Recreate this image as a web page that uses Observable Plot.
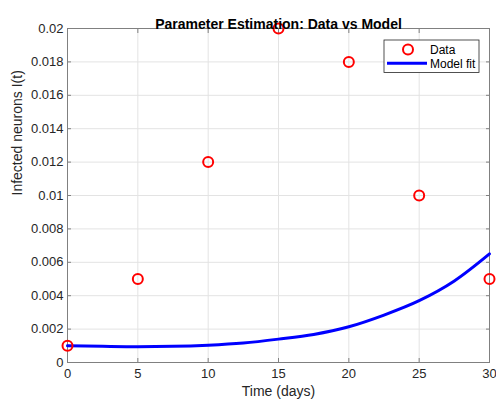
<!DOCTYPE html>
<html>
<head>
<meta charset="utf-8">
<script src="https://cdn.jsdelivr.net/npm/d3@7"></script>
<script src="https://cdn.jsdelivr.net/npm/@observablehq/plot@0.6"></script>
<style>
  html, body { margin: 0; padding: 0; background: #fff; }
  #chart { width: 496px; height: 404px; }
  svg text { font-family: Arial, "Liberation Sans", Helvetica, sans-serif; }
</style>
</head>
<body>
<div id="chart"></div>
<script>
// Observed data
const dataTime = [0, 5, 10, 15, 20, 25, 30];
const dataInfected = [0.001, 0.005, 0.012, 0.02, 0.018, 0.01, 0.005];

// Model fit
const modelTime = [0, 2.5, 5, 7.5, 10, 12.5, 15, 17.5, 20, 22.5, 25, 27.5, 30];
const modelInfected = [0.001, 0.00097, 0.00095, 0.00097, 0.00104, 0.00117, 0.0014, 0.00168, 0.00214, 0.00284, 0.0037, 0.00488, 0.0065];

// Ticks
const xTicks = [0, 5, 10, 15, 20, 25, 30];
const yTicks = [0, 0.002, 0.004, 0.006, 0.008, 0.01, 0.012, 0.014, 0.016, 0.018, 0.02];
const yTickLabels = ["0", "0.002", "0.004", "0.006", "0.008", "0.01", "0.012", "0.014", "0.016", "0.018", "0.02"];

const titleText = "Parameter Estimation: Data vs Model";
const legendLabels = ["Data", "Model fit"];

const dataPts = dataTime.map((t, i) => ({t, v: dataInfected[i]}));
const modelPts = modelTime.map((t, i) => ({t, v: modelInfected[i]}));

const axisColor = "#808080";
const textColor = "#262626";

const chart = Plot.plot({
  width: 496,
  height: 404,
  marginLeft: 67,
  marginRight: 7,
  marginTop: 28,
  marginBottom: 42,
  style: {fontFamily: "Arial, 'Liberation Sans', sans-serif", fontSize: "13px", color: textColor, background: "#fff"},
  x: {domain: [0, 30]},
  y: {domain: [0, 0.02]},
  marks: [
    Plot.gridX(xTicks, {stroke: "#e3e3e3", strokeOpacity: 1}),
    Plot.gridY(yTicks, {stroke: "#e3e3e3", strokeOpacity: 1}),
    Plot.frame({stroke: axisColor}),
    Plot.axisX(xTicks, {anchor: "bottom", tickSize: -4, stroke: axisColor, tickPadding: 10, fill: textColor, fontSize: 13, label: null}),
    Plot.axisX(xTicks, {anchor: "top", tickSize: -4, stroke: axisColor, tickFormat: () => "", label: null}),
    Plot.axisY(yTicks, {anchor: "left", tickSize: -4, stroke: axisColor, tickPadding: 8, fill: textColor, fontSize: 13, label: null,
      tickFormat: d => yTickLabels[yTicks.indexOf(d)]}),
    Plot.axisY(yTicks, {anchor: "right", tickSize: -4, stroke: axisColor, tickFormat: () => "", label: null}),
    Plot.line(modelPts, {x: "t", y: "v", stroke: "#0000ff", strokeWidth: 3, curve: "monotone-x"}),
    Plot.dot(dataPts, {x: "t", y: "v", r: 5, stroke: "#ff0000", strokeWidth: 2, fill: "none"}),
    Plot.text([titleText], {frameAnchor: "top", dy: -9, fontWeight: "bold", fontSize: 14, fill: "#000"}),
    Plot.text(["Time (days)"], {frameAnchor: "bottom", dy: 33, fontSize: 14, fill: textColor}),
    Plot.text(["Infected neurons I(t)"], {frameAnchor: "left", dx: -50, rotate: -90, fontSize: 14, fill: textColor})
  ]
});

// Legend (MATLAB-style box in the upper right)
const svg = d3.select(chart);
const lg = svg.append("g").attr("transform", "translate(384,40)").attr("text-anchor", "start");
lg.append("rect").attr("width", 95).attr("height", 32.5).attr("fill", "#fff").attr("stroke", "#262626").attr("stroke-width", 0.8);
lg.append("circle").attr("cx", 24).attr("cy", 9.5).attr("r", 5).attr("fill", "none").attr("stroke", "#ff0000").attr("stroke-width", 2);
lg.append("line").attr("x1", 3).attr("x2", 43).attr("y1", 23.3).attr("y2", 23.3).attr("stroke", "#0000ff").attr("stroke-width", 3);
lg.append("text").attr("x", 46).attr("y", 14).attr("font-size", 12).attr("fill", "#000").text(legendLabels[0]);
lg.append("text").attr("x", 46).attr("y", 27.5).attr("font-size", 12).attr("fill", "#000").text(legendLabels[1]);

document.getElementById("chart").appendChild(chart);
</script>
</body>
</html>
